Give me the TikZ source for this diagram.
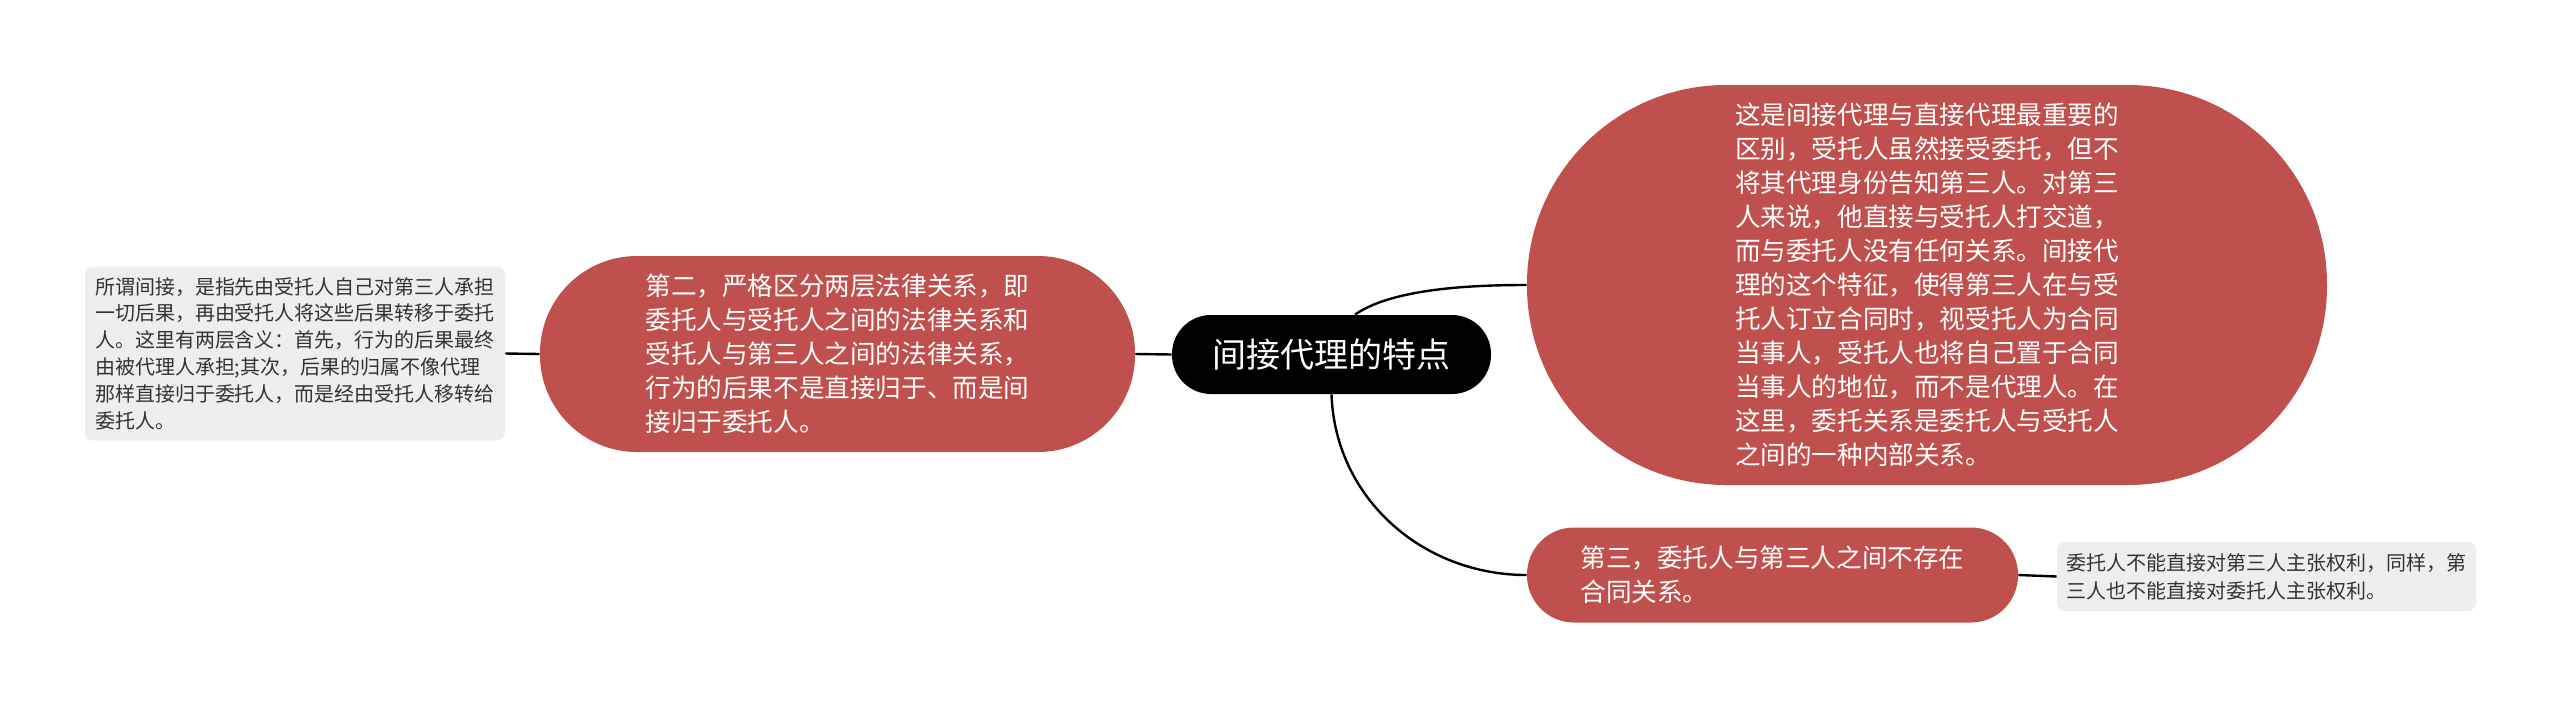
\documentclass[tikz,border=0pt]{standalone}
\usepackage{fontspec}
\setmainfont{Noto Sans CJK SC}
\usepackage{xcolor}
\usepackage{tikz}
\usetikzlibrary{shapes}

\definecolor{branchred}{HTML}{C0504D}
\definecolor{notegray}{HTML}{EEEEEE}
\definecolor{notetext}{HTML}{333333}

\tikzset{
    topic/.style = {fill = black, text = white, inner sep = 0pt,
        rounded corners = 19.5pt, minimum width = 159.5pt, minimum height = 39.5pt,
        font = \fontsize{17pt}{20pt}\selectfont},
    branch/.style = {fill = branchred, text = white, inner sep = 0pt, align = left,
        font = \fontsize{12.8pt}{17pt}\selectfont},
    note/.style = {fill = notegray, text = notetext, inner sep = 0pt, align = left,
        rounded corners = 4pt, font = \fontsize{10pt}{13.4pt}\selectfont},
    link/.style = {line width = 1.2pt}
}

\begin{document}
\begin{tikzpicture}[x = 0.5pt, y = -0.5pt]
        \useasboundingbox (0, 0) rectangle (2560, 708);

        \node[topic] (topic) at (1331.5, 354.5) {间接代理的特点};

        \node[branch, rounded corners = 48.5pt, minimum width = 297.5pt, minimum height = 98pt]
            (second) at (837.5, 354) {第二，严格区分两层法律关系，即\\委托人与受托人之间的法律关系和\\受托人与第三人之间的法律关系，\\行为的后果不是直接归于、而是间\\接归于委托人。};
        \node[branch, rounded corners = 99.5pt, minimum width = 400pt, minimum height = 200pt]
            (first) at (1927, 285) {这是间接代理与直接代理最重要的\\区别，受托人虽然接受委托，但不\\将其代理身份告知第三人。对第三\\人来说，他直接与受托人打交道，\\而与委托人没有任何关系。间接代\\理的这个特征，使得第三人在与受\\托人订立合同时，视受托人为合同\\当事人，受托人也将自己置于合同\\当事人的地位，而不是代理人。在\\这里，委托关系是委托人与受托人\\之间的一种内部关系。};
        \node[branch, rounded corners = 23.5pt, minimum width = 245.5pt, minimum height = 47.5pt]
            (third) at (1772.5, 575) {第三，委托人与第三人之间不存在\\合同关系。};

        \node[note, minimum width = 210pt, minimum height = 87pt] (secondnote) at (295, 353.5)
            {所谓间接，是指先由受托人自己对第三人承担\\一切后果，再由受托人将这些后果转移于委托\\人。这里有两层含义：首先，行为的后果最终\\由被代理人承担;其次，后果的归属不像代理\\那样直接归于委托人，而是经由受托人移转给\\委托人。};
        \node[note, minimum width = 209.5pt, minimum height = 34.5pt, font = \fontsize{10pt}{14pt}\selectfont]
            (thirdnote) at (2266.5, 576.5)
            {委托人不能直接对第三人主张权利，同样，第\\三人也不能直接对委托人主张权利。};

        \draw[link] (secondnote.east) -- (second.west);
        \draw[link] (second.east) -- (topic.west);
        \draw[link] ([xshift = 11.75pt]topic.north) to[out = 35, in = 180, looseness = 0.7] (first.west);
        \draw[link] (topic.south) to[out = -88, in = 180] (third.west);
        \draw[link] (third.east) -- (thirdnote.west);
    \end{tikzpicture}
\end{document}
